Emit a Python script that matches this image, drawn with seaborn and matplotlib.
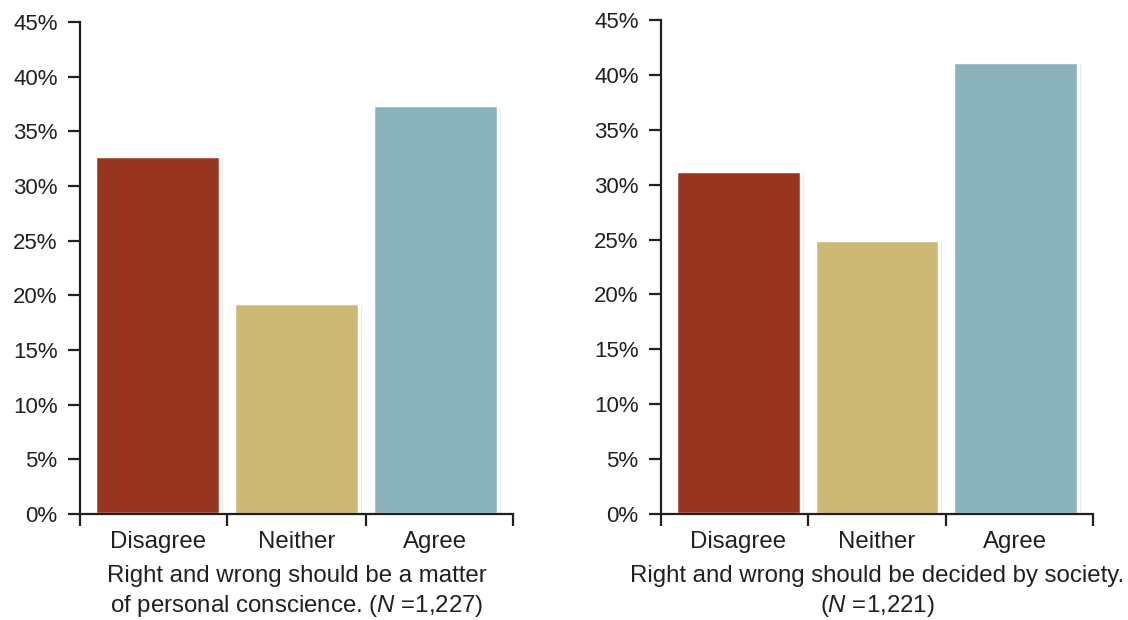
import matplotlib
matplotlib.use("Agg")
import matplotlib.pyplot as plt
import matplotlib.patheffects as pe
from matplotlib.ticker import PercentFormatter, MultipleLocator
import pandas as pd
import seaborn as sns

categories = ["Disagree", "Neither", "Agree"]
conscience = [32.7, 19.3, 37.4]
society = [31.2, 25.0, 41.2]
captions = [
    "Right and wrong should be a matter\nof personal conscience. ($\\mathit{N}$ =1,227)",
    "Right and wrong should be decided by society.\n($\\mathit{N}$ =1,221)",
]
colors = ["#983520", "#CDB974", "#8AB2BB"]

sns.set_style("white")
plt.rcParams["font.family"] = ["Liberation Sans", "DejaVu Sans"]
plt.rcParams["mathtext.fontset"] = "custom"
plt.rcParams["mathtext.rm"] = "Liberation Sans"
plt.rcParams["mathtext.it"] = "Liberation Sans:italic"

ink = "#231f20"
fig = plt.figure(figsize=(11.28, 6.2), dpi=100)
ax1 = fig.add_axes([80 / 1128, 106 / 620, 433 / 1128, 492 / 620])
ax2 = fig.add_axes([661 / 1128, 106 / 620, 432 / 1128, 494 / 620])

shadow = [pe.SimplePatchShadow(offset=(2, -2), shadow_rgbFace="#999999", alpha=0.25), pe.Normal()]

for ax, vals, cap in zip([ax1, ax2], [conscience, society], captions):
    df = pd.DataFrame({"answer": categories, "pct": vals})
    sns.barplot(data=df, x="answer", y="pct", hue="answer", palette=colors,
                saturation=1, legend=False, width=0.9, edgecolor="white",
                linewidth=2.5, ax=ax)
    for p in ax.patches:
        p.set_path_effects(shadow)
    lo, hi = -0.56, 2.56
    ax.set_xlim(lo, hi)
    ax.set_ylim(0, 45)
    ax.yaxis.set_major_locator(MultipleLocator(5))
    ax.yaxis.set_major_formatter(PercentFormatter(decimals=0))
    ax.set_xticks([lo, 0.5, 1.5, hi])
    ax.set_xticklabels([])
    ax.set_xticks([0, 1, 2], minor=True)
    ax.set_xticklabels(categories, minor=True)
    ax.tick_params(axis="x", which="major", bottom=True, direction="out",
                   length=8.6, width=1.6, color=ink)
    ax.tick_params(axis="x", which="minor", bottom=True, length=0, pad=12,
                   labelsize=17.3, labelcolor=ink)
    ax.tick_params(axis="y", left=True, direction="out", length=8.6, width=1.6,
                   color=ink, pad=7.5, labelsize=16, labelcolor=ink)
    for s in ["top", "right"]:
        ax.spines[s].set_visible(False)
    for s in ["left", "bottom"]:
        ax.spines[s].set_color(ink)
        ax.spines[s].set_linewidth(1.6)
    ax.set_ylabel("")
    ax.set_xlabel(cap, fontsize=17.3, color=ink, labelpad=9, linespacing=1.32)

fig.savefig("out.png", dpi=100, facecolor="white")
